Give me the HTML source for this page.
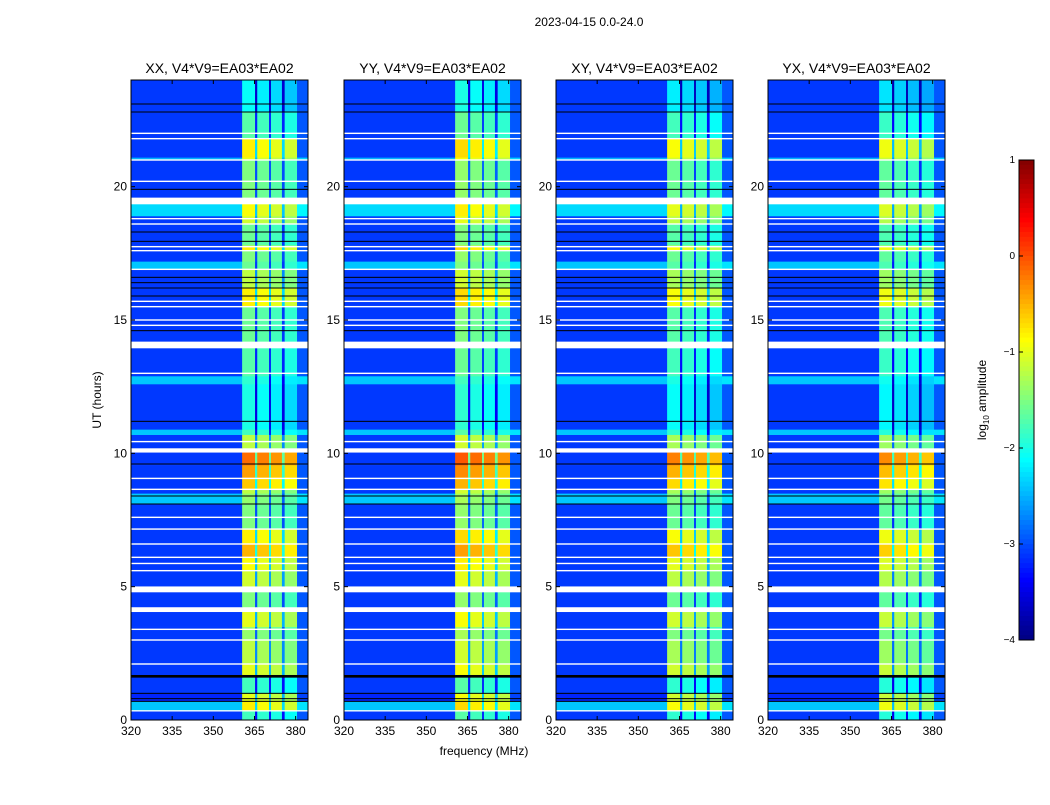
<!DOCTYPE html>
<html><head><meta charset="utf-8"><style>
body{margin:0;background:#fff;width:1050px;height:800px;overflow:hidden}
svg text{font-family:"Liberation Sans",sans-serif}
</style></head><body>
<svg id="chart" width="1050" height="800" viewBox="0 0 1050 800">
<text x="589" y="26" font-size="12" text-anchor="middle">2023-04-15 0.0-24.0</text>
<text x="484" y="755" font-size="12" text-anchor="middle">frequency (MHz)</text>
<text transform="translate(101,400) rotate(-90)" font-size="12" text-anchor="middle">UT (hours)</text>
<g id="panels"></g>
<g id="cbar"></g>
</svg>
<script>
const panelTitles=["XX, V4*V9=EA03*EA02","YY, V4*V9=EA03*EA02","XY, V4*V9=EA03*EA02","YX, V4*V9=EA03*EA02"];
const panelLefts=[131,344,556,768];
const panelBandShift=[-0.1,0,-0.2,-0.25];
const xTicks=[320,335,350,365,380];
const yTicks=[0,5,10,15,20];
const cbarTicks=[1,0,-1,-2,-3,-4];
// time segments (hours): start, end, background log level, band log level (null = flagged white)
const segStart=[0,0.33,0.38,0.7,1.0,1.6,1.7,2.1,3.0,3.5,4.06,4.24,4.8,5.02,5.6,6.1,6.6,7.16,8.1,8.5,8.65,9.1,9.56,10.04,10.2,10.7,10.9,12.6,12.9,13.95,14.2,15.5,16.2,16.9,17.2,17.6,17.8,18.6,18.9,19.35,19.6,20.2,21.0,21.1,21.8,22.8];
const segEnd=[0.33,0.38,0.7,1.0,1.6,1.7,2.1,3.0,3.5,4.06,4.24,4.8,5.02,5.6,6.1,6.6,7.16,8.1,8.5,8.65,9.1,9.56,10.04,10.2,10.7,10.9,12.6,12.9,13.95,14.2,15.5,16.2,16.9,17.2,17.6,17.8,18.6,18.9,19.35,19.6,20.2,21.0,21.1,21.8,22.8,24];
const segBg=[-3.1,null,-2.4,-3.2,-3.1,-9,-3.1,-3.1,-3.1,-3.1,null,-3.1,null,-3.1,-3.1,-3.1,-3.1,-3.1,-2.4,-3.1,-3.1,-3.1,-3.1,null,-3.1,-2.4,-3.1,-2.4,-3.1,null,-3.1,-3.1,-3.1,-2.4,-3.1,-3.1,-3.1,-3.1,-2.3,null,-3.1,-3.1,-2.5,-3.1,-3.1,-3.1];
const segBand=[-1.8,null,-0.8,-1.0,-1.8,-9,-1.0,-1.2,-1.4,-1.0,null,-1.5,null,-1.1,-0.9,-0.5,-0.8,-1.5,-1.4,-1.2,-0.6,-0.4,-0.15,null,-1.2,-1.8,-2.0,-1.9,-1.7,null,-1.6,-0.8,-1.2,-1.6,-1.5,-0.8,-1.6,-1.1,-0.9,null,-1.5,-1.5,-1.0,-0.8,-1.7,-2.1];
// frequency columns (MHz)
const colStart=[320,360.5,365.2,366,370.3,371,375,376,380.5];
const colEnd=[360.5,365.2,366,370.3,371,375,376,380.5,384.5];
const colIsBand=[0,1,1,1,1,1,1,1,0];
const colOffset=[0,0.1,-1.4,0,-1.4,-0.1,-1.4,-0.2,0.15];
const whiteLines=[2.1,3.0,3.4,5.6,5.87,6.1,6.6,7.16,7.6,8.65,9.06,10.44,13.0,14.8,15.0,15.5,15.7,16.9,17.6,17.75,18.6,18.8,20.2,21.0,21.8,22.0];
const blackLines=[0.7,0.8,1.0,8.1,8.4,9.6,11.2,14.6,15.9,16.2,16.4,16.6,17.95,18.3,19.9,22.8,23.1];

const NS="http://www.w3.org/2000/svg";
const W=177,TOP=80,H=640,XMIN=320,XMAX=384.5,YMIN=0,YMAX=24,VMIN=-4,VMAX=1;
function cl(v){return Math.max(0,Math.min(1,v));}
function jet(v){const t=cl((v-VMIN)/(VMAX-VMIN));
 const r=cl(1.5-Math.abs(4*t-3)),g=cl(1.5-Math.abs(4*t-2)),b=cl(1.5-Math.abs(4*t-1));
 return `rgb(${Math.round(r*255)},${Math.round(g*255)},${Math.round(b*255)})`;}
function yS(h){return TOP+H-(h-YMIN)/(YMAX-YMIN)*H;}
function mk(tag,attrs,parent){const e=document.createElementNS(NS,tag);for(const k in attrs)e.setAttribute(k,attrs[k]);parent.appendChild(e);return e;}
const panels=document.getElementById('panels');
panelLefts.forEach((L,p)=>{
 const xS=f=>L+(f-XMIN)/(XMAX-XMIN)*W;
 const g=mk('g',{},panels);
 
 
 for(let s=0;s<segStart.length;s++){
  const y0=yS(segEnd[s]),y1=yS(segStart[s]);
  for(let c=0;c<colStart.length;c++){
   let fill;
   if(segBg[s]===null) fill='#fff';
   else if(segBg[s]<-8) fill='#000';
   else if(colIsBand[c]) fill=jet(segBand[s]+panelBandShift[p]+colOffset[c]);
   else fill=jet(segBg[s]+colOffset[c]);
   const r=mk('rect',{x:xS(colStart[c]),y:y0,width:xS(colEnd[c])-xS(colStart[c])+0.3,height:y1-y0+0.3,fill:fill},g);
   
   
  }
 }
 whiteLines.forEach(h=>{const r=mk('rect',{x:L,y:yS(h)-0.7,width:W,height:1.4,fill:'#fff'},g);
  });
 blackLines.forEach(h=>{const r=mk('rect',{x:L,y:yS(h)-0.5,width:W,height:1,fill:'#000'},g);
  });
 mk('rect',{x:L,y:TOP,width:W,height:H,fill:'none',stroke:'#000','stroke-width':1},g);
 const t=mk('text',{x:L+W/2,y:TOP-7,'font-size':14,'text-anchor':'middle'},g);t.textContent=panelTitles[p];
 
 xTicks.forEach(v=>{const x=xS(v);mk('line',{x1:x,x2:x,y1:TOP+H,y2:TOP+H-4,stroke:'#000'},g);mk('line',{x1:x,x2:x,y1:TOP,y2:TOP+4,stroke:'#000'},g);
  const tt=mk('text',{x:x,y:TOP+H+15,'font-size':12,'text-anchor':'middle'},g);tt.textContent=v;
  });
 yTicks.forEach(v=>{const y=yS(v);mk('line',{x1:L,x2:L+4,y1:y,y2:y,stroke:'#000'},g);mk('line',{x1:L+W,x2:L+W-4,y1:y,y2:y,stroke:'#000'},g);
  const tt=mk('text',{x:L-4,y:y+4,'font-size':12,'text-anchor':'end'},g);tt.textContent=v;
  });
});
// colorbar
const cb=document.getElementById('cbar');
const CX=1019,CW=15,CT=160,CH=480;
for(let i=0;i<100;i++){const v=VMAX-(i+0.5)/100*(VMAX-VMIN);
 mk('rect',{x:CX,y:CT+i*CH/100,width:CW,height:CH/100+0.4,fill:jet(v)},cb);}
mk('rect',{x:CX,y:CT,width:CW,height:CH,fill:'none',stroke:'#000'},cb);
cbarTicks.forEach(v=>{const y=CT+(VMAX-v)/(VMAX-VMIN)*CH;
 mk('line',{x1:CX,x2:CX+4,y1:y,y2:y,stroke:'#000'},cb);
 const t=mk('text',{x:CX-4,y:y+3,'font-size':10,'text-anchor':'end'},cb);t.textContent=v<0?'\u2212'+(-v):v;
 });
const lab=mk('text',{transform:'translate(986,400) rotate(-90)','font-size':12,'text-anchor':'middle'},cb);
lab.innerHTML='log<tspan font-size="8" dy="3">10</tspan><tspan dy="-3"> amplitude</tspan>';


</script>
</body></html>
